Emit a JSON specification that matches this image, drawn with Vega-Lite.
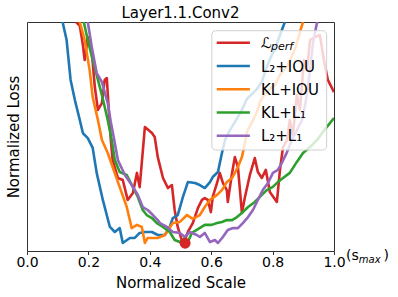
{
"$schema": "https://vega.github.io/schema/vega-lite/v6.json",
"width": 307, "height": 229,
"autosize": {"type": "none"},
"padding": {"left": 27, "top": 22, "right": 64, "bottom": 46},
"title": {"text": "Layer1.1.Conv2", "fontSize": 15, "fontWeight": "normal", "font": "DejaVu Sans", "color": "black", "anchor": "middle", "frame": "group", "baseline": "alphabetic", "offset": 4, "dy": 15},
"config": {"view": {"stroke": "#333", "strokeWidth": 1}, "font": "DejaVu Sans"},
"datasets": {
"curves": [
{"series":"Lperf","scale":0.160,"loss":1.0},{"series":"Lperf","scale":0.172,"loss":0.983},{"series":"Lperf","scale":0.182,"loss":0.900},{"series":"Lperf","scale":0.188,"loss":0.834},{"series":"Lperf","scale":0.198,"loss":0.934},{"series":"Lperf","scale":0.211,"loss":0.869},{"series":"Lperf","scale":0.221,"loss":0.716},{"series":"Lperf","scale":0.231,"loss":0.616},{"series":"Lperf","scale":0.244,"loss":0.646},{"series":"Lperf","scale":0.253,"loss":0.747},{"series":"Lperf","scale":0.260,"loss":0.755},{"series":"Lperf","scale":0.267,"loss":0.603},{"series":"Lperf","scale":0.273,"loss":0.485},{"series":"Lperf","scale":0.279,"loss":0.397},{"series":"Lperf","scale":0.296,"loss":0.319},{"series":"Lperf","scale":0.312,"loss":0.310},{"series":"Lperf","scale":0.328,"loss":0.223},{"series":"Lperf","scale":0.345,"loss":0.253},{"series":"Lperf","scale":0.358,"loss":0.341},{"series":"Lperf","scale":0.367,"loss":0.279},{"series":"Lperf","scale":0.384,"loss":0.541},{"series":"Lperf","scale":0.407,"loss":0.515},{"series":"Lperf","scale":0.416,"loss":0.498},{"series":"Lperf","scale":0.426,"loss":0.410},{"series":"Lperf","scale":0.443,"loss":0.319},{"series":"Lperf","scale":0.459,"loss":0.275},{"series":"Lperf","scale":0.472,"loss":0.288},{"series":"Lperf","scale":0.481,"loss":0.179},{"series":"Lperf","scale":0.491,"loss":0.105},{"series":"Lperf","scale":0.504,"loss":0.048},{"series":"Lperf","scale":0.514,"loss":0.048},{"series":"Lperf","scale":0.524,"loss":0.083},{"series":"Lperf","scale":0.540,"loss":0.122},{"series":"Lperf","scale":0.557,"loss":0.188},{"series":"Lperf","scale":0.570,"loss":0.223},{"series":"Lperf","scale":0.579,"loss":0.231},{"series":"Lperf","scale":0.589,"loss":0.223},{"series":"Lperf","scale":0.599,"loss":0.170},{"series":"Lperf","scale":0.605,"loss":0.236},{"series":"Lperf","scale":0.619,"loss":0.297},{"series":"Lperf","scale":0.628,"loss":0.341},{"series":"Lperf","scale":0.638,"loss":0.297},{"series":"Lperf","scale":0.651,"loss":0.266},{"series":"Lperf","scale":0.654,"loss":0.214},{"series":"Lperf","scale":0.668,"loss":0.341},{"series":"Lperf","scale":0.677,"loss":0.410},{"series":"Lperf","scale":0.687,"loss":0.367},{"series":"Lperf","scale":0.700,"loss":0.166},{"series":"Lperf","scale":0.710,"loss":0.236},{"series":"Lperf","scale":0.726,"loss":0.332},{"series":"Lperf","scale":0.742,"loss":0.406},{"series":"Lperf","scale":0.752,"loss":0.345},{"series":"Lperf","scale":0.765,"loss":0.319},{"series":"Lperf","scale":0.778,"loss":0.354},{"series":"Lperf","scale":0.791,"loss":0.258},{"series":"Lperf","scale":0.814,"loss":0.214},{"series":"Lperf","scale":0.824,"loss":0.354},{"series":"Lperf","scale":0.834,"loss":0.454},{"series":"Lperf","scale":0.847,"loss":0.485},{"series":"Lperf","scale":0.856,"loss":0.572},{"series":"Lperf","scale":0.866,"loss":0.507},{"series":"Lperf","scale":0.879,"loss":0.681},{"series":"Lperf","scale":0.889,"loss":0.616},{"series":"Lperf","scale":0.902,"loss":0.834},{"series":"Lperf","scale":0.912,"loss":0.790},{"series":"Lperf","scale":0.922,"loss":0.921},{"series":"Lperf","scale":0.938,"loss":0.934},{"series":"Lperf","scale":0.954,"loss":0.943},{"series":"Lperf","scale":0.967,"loss":0.834},{"series":"Lperf","scale":0.980,"loss":0.747},{"series":"Lperf","scale":1.0,"loss":0.694},
{"series":"L2+IOU","scale":0.116,"loss":1.0},{"series":"L2+IOU","scale":0.129,"loss":0.921},{"series":"L2+IOU","scale":0.142,"loss":0.747},{"series":"L2+IOU","scale":0.156,"loss":0.659},{"series":"L2+IOU","scale":0.172,"loss":0.572},{"series":"L2+IOU","scale":0.182,"loss":0.515},{"series":"L2+IOU","scale":0.198,"loss":0.493},{"series":"L2+IOU","scale":0.214,"loss":0.450},{"series":"L2+IOU","scale":0.227,"loss":0.341},{"series":"L2+IOU","scale":0.247,"loss":0.223},{"series":"L2+IOU","scale":0.270,"loss":0.105},{"series":"L2+IOU","scale":0.286,"loss":0.083},{"series":"L2+IOU","scale":0.302,"loss":0.100},{"series":"L2+IOU","scale":0.312,"loss":0.035},{"series":"L2+IOU","scale":0.335,"loss":0.057},{"series":"L2+IOU","scale":0.351,"loss":0.057},{"series":"L2+IOU","scale":0.367,"loss":0.079},{"series":"L2+IOU","scale":0.384,"loss":0.083},{"series":"L2+IOU","scale":0.407,"loss":0.083},{"series":"L2+IOU","scale":0.426,"loss":0.070},{"series":"L2+IOU","scale":0.449,"loss":0.070},{"series":"L2+IOU","scale":0.465,"loss":0.105},{"series":"L2+IOU","scale":0.475,"loss":0.144},{"series":"L2+IOU","scale":0.491,"loss":0.157},{"series":"L2+IOU","scale":0.508,"loss":0.236},{"series":"L2+IOU","scale":0.524,"loss":0.301},{"series":"L2+IOU","scale":0.547,"loss":0.297},{"series":"L2+IOU","scale":0.563,"loss":0.288},{"series":"L2+IOU","scale":0.579,"loss":0.275},{"series":"L2+IOU","scale":0.596,"loss":0.301},{"series":"L2+IOU","scale":0.605,"loss":0.323},{"series":"L2+IOU","scale":0.622,"loss":0.345},{"series":"L2+IOU","scale":0.635,"loss":0.428},{"series":"L2+IOU","scale":0.645,"loss":0.485},{"series":"L2+IOU","scale":0.661,"loss":0.528},{"series":"L2+IOU","scale":0.677,"loss":0.563},{"series":"L2+IOU","scale":0.700,"loss":0.616},{"series":"L2+IOU","scale":0.716,"loss":0.664},{"series":"L2+IOU","scale":0.733,"loss":0.686},{"series":"L2+IOU","scale":0.749,"loss":0.707},{"series":"L2+IOU","scale":0.765,"loss":0.738},{"series":"L2+IOU","scale":0.775,"loss":0.782},{"series":"L2+IOU","scale":0.791,"loss":0.838},{"series":"L2+IOU","scale":0.808,"loss":0.882},{"series":"L2+IOU","scale":0.824,"loss":0.943},{"series":"L2+IOU","scale":0.840,"loss":1.0},
{"series":"KL+IOU","scale":0.172,"loss":1.0},{"series":"KL+IOU","scale":0.188,"loss":0.921},{"series":"KL+IOU","scale":0.204,"loss":0.790},{"series":"KL+IOU","scale":0.214,"loss":0.672},{"series":"KL+IOU","scale":0.231,"loss":0.572},{"series":"KL+IOU","scale":0.244,"loss":0.485},{"series":"KL+IOU","scale":0.263,"loss":0.428},{"series":"KL+IOU","scale":0.279,"loss":0.367},{"series":"KL+IOU","scale":0.302,"loss":0.279},{"series":"KL+IOU","scale":0.325,"loss":0.192},{"series":"KL+IOU","scale":0.341,"loss":0.100},{"series":"KL+IOU","scale":0.358,"loss":0.114},{"series":"KL+IOU","scale":0.374,"loss":0.105},{"series":"KL+IOU","scale":0.384,"loss":0.035},{"series":"KL+IOU","scale":0.393,"loss":0.057},{"series":"KL+IOU","scale":0.426,"loss":0.057},{"series":"KL+IOU","scale":0.449,"loss":0.070},{"series":"KL+IOU","scale":0.475,"loss":0.122},{"series":"KL+IOU","scale":0.498,"loss":0.127},{"series":"KL+IOU","scale":0.521,"loss":0.157},{"series":"KL+IOU","scale":0.540,"loss":0.140},{"series":"KL+IOU","scale":0.563,"loss":0.157},{"series":"KL+IOU","scale":0.579,"loss":0.192},{"series":"KL+IOU","scale":0.596,"loss":0.223},{"series":"KL+IOU","scale":0.619,"loss":0.245},{"series":"KL+IOU","scale":0.635,"loss":0.266},{"series":"KL+IOU","scale":0.651,"loss":0.301},{"series":"KL+IOU","scale":0.668,"loss":0.319},{"series":"KL+IOU","scale":0.677,"loss":0.341},{"series":"KL+IOU","scale":0.687,"loss":0.367},{"series":"KL+IOU","scale":0.700,"loss":0.410},{"series":"KL+IOU","scale":0.710,"loss":0.472},{"series":"KL+IOU","scale":0.716,"loss":0.520},{"series":"KL+IOU","scale":0.733,"loss":0.563},{"series":"KL+IOU","scale":0.749,"loss":0.607},{"series":"KL+IOU","scale":0.759,"loss":0.651},{"series":"KL+IOU","scale":0.775,"loss":0.686},{"series":"KL+IOU","scale":0.791,"loss":0.707},{"series":"KL+IOU","scale":0.808,"loss":0.725},{"series":"KL+IOU","scale":0.824,"loss":0.769},{"series":"KL+IOU","scale":0.850,"loss":0.812},{"series":"KL+IOU","scale":0.873,"loss":0.882},{"series":"KL+IOU","scale":0.889,"loss":0.956},{"series":"KL+IOU","scale":0.899,"loss":1.0},
{"series":"KL+L1","scale":0.185,"loss":1.0},{"series":"KL+L1","scale":0.198,"loss":0.921},{"series":"KL+L1","scale":0.214,"loss":0.834},{"series":"KL+L1","scale":0.227,"loss":0.769},{"series":"KL+L1","scale":0.244,"loss":0.681},{"series":"KL+L1","scale":0.263,"loss":0.572},{"series":"KL+L1","scale":0.276,"loss":0.485},{"series":"KL+L1","scale":0.286,"loss":0.397},{"series":"KL+L1","scale":0.302,"loss":0.345},{"series":"KL+L1","scale":0.325,"loss":0.332},{"series":"KL+L1","scale":0.345,"loss":0.279},{"series":"KL+L1","scale":0.361,"loss":0.236},{"series":"KL+L1","scale":0.377,"loss":0.179},{"series":"KL+L1","scale":0.390,"loss":0.157},{"series":"KL+L1","scale":0.407,"loss":0.144},{"series":"KL+L1","scale":0.423,"loss":0.122},{"series":"KL+L1","scale":0.443,"loss":0.105},{"series":"KL+L1","scale":0.465,"loss":0.083},{"series":"KL+L1","scale":0.481,"loss":0.048},{"series":"KL+L1","scale":0.498,"loss":0.039},{"series":"KL+L1","scale":0.514,"loss":0.057},{"series":"KL+L1","scale":0.524,"loss":0.039},{"series":"KL+L1","scale":0.537,"loss":0.079},{"series":"KL+L1","scale":0.553,"loss":0.092},{"series":"KL+L1","scale":0.579,"loss":0.114},{"series":"KL+L1","scale":0.602,"loss":0.114},{"series":"KL+L1","scale":0.619,"loss":0.122},{"series":"KL+L1","scale":0.635,"loss":0.127},{"series":"KL+L1","scale":0.651,"loss":0.135},{"series":"KL+L1","scale":0.668,"loss":0.135},{"series":"KL+L1","scale":0.684,"loss":0.148},{"series":"KL+L1","scale":0.700,"loss":0.166},{"series":"KL+L1","scale":0.720,"loss":0.192},{"series":"KL+L1","scale":0.742,"loss":0.214},{"series":"KL+L1","scale":0.765,"loss":0.245},{"series":"KL+L1","scale":0.781,"loss":0.266},{"series":"KL+L1","scale":0.801,"loss":0.280},{"series":"KL+L1","scale":0.817,"loss":0.301},{"series":"KL+L1","scale":0.834,"loss":0.319},{"series":"KL+L1","scale":0.856,"loss":0.341},{"series":"KL+L1","scale":0.879,"loss":0.389},{"series":"KL+L1","scale":0.899,"loss":0.428},{"series":"KL+L1","scale":0.922,"loss":0.454},{"series":"KL+L1","scale":0.945,"loss":0.485},{"series":"KL+L1","scale":0.964,"loss":0.520},{"series":"KL+L1","scale":0.987,"loss":0.559},{"series":"KL+L1","scale":1.0,"loss":0.581},
{"series":"L2+L1","scale":0.198,"loss":1.0},{"series":"L2+L1","scale":0.211,"loss":0.891},{"series":"L2+L1","scale":0.227,"loss":0.777},{"series":"L2+L1","scale":0.244,"loss":0.738},{"series":"L2+L1","scale":0.263,"loss":0.646},{"series":"L2+L1","scale":0.273,"loss":0.563},{"series":"L2+L1","scale":0.283,"loss":0.493},{"series":"L2+L1","scale":0.296,"loss":0.397},{"series":"L2+L1","scale":0.319,"loss":0.332},{"series":"L2+L1","scale":0.341,"loss":0.288},{"series":"L2+L1","scale":0.361,"loss":0.245},{"series":"L2+L1","scale":0.377,"loss":0.192},{"series":"L2+L1","scale":0.393,"loss":0.179},{"series":"L2+L1","scale":0.410,"loss":0.157},{"series":"L2+L1","scale":0.426,"loss":0.135},{"series":"L2+L1","scale":0.433,"loss":0.122},{"series":"L2+L1","scale":0.456,"loss":0.105},{"series":"L2+L1","scale":0.475,"loss":0.083},{"series":"L2+L1","scale":0.498,"loss":0.079},{"series":"L2+L1","scale":0.514,"loss":0.061},{"series":"L2+L1","scale":0.530,"loss":0.083},{"series":"L2+L1","scale":0.553,"loss":0.070},{"series":"L2+L1","scale":0.563,"loss":0.061},{"series":"L2+L1","scale":0.579,"loss":0.079},{"series":"L2+L1","scale":0.596,"loss":0.039},{"series":"L2+L1","scale":0.612,"loss":0.048},{"series":"L2+L1","scale":0.622,"loss":0.035},{"series":"L2+L1","scale":0.638,"loss":0.061},{"series":"L2+L1","scale":0.654,"loss":0.092},{"series":"L2+L1","scale":0.671,"loss":0.100},{"series":"L2+L1","scale":0.687,"loss":0.100},{"series":"L2+L1","scale":0.703,"loss":0.122},{"series":"L2+L1","scale":0.720,"loss":0.148},{"series":"L2+L1","scale":0.736,"loss":0.179},{"series":"L2+L1","scale":0.752,"loss":0.223},{"series":"L2+L1","scale":0.768,"loss":0.266},{"series":"L2+L1","scale":0.785,"loss":0.297},{"series":"L2+L1","scale":0.801,"loss":0.341},{"series":"L2+L1","scale":0.817,"loss":0.354},{"series":"L2+L1","scale":0.830,"loss":0.384},{"series":"L2+L1","scale":0.847,"loss":0.432},{"series":"L2+L1","scale":0.863,"loss":0.485},{"series":"L2+L1","scale":0.879,"loss":0.528},{"series":"L2+L1","scale":0.896,"loss":0.572},{"series":"L2+L1","scale":0.909,"loss":0.659},{"series":"L2+L1","scale":0.922,"loss":0.790},{"series":"L2+L1","scale":0.932,"loss":0.913},{"series":"L2+L1","scale":0.945,"loss":1.0}
],
"optimum": [{"scale": 0.515, "loss": 0.034}],
"legend": [
{"series":"Lperf","label":"ℒ","sub":"perf"},
{"series":"L2+IOU","label":"L₂+IOU","sub":""},
{"series":"KL+IOU","label":"KL+IOU","sub":""},
{"series":"KL+L1","label":"KL+L₁","sub":""},
{"series":"L2+L1","label":"L₂+L₁","sub":""}
]
},
"layer": [
{"layer": [
 {"data": {"name": "curves"},
  "mark": {"type": "line", "strokeWidth": 2.6, "clip": true, "strokeJoin": "round"},
  "encoding": {
   "x": {"field": "scale", "type": "quantitative", "scale": {"domain": [0, 1], "nice": false},
     "axis": {"title": "Normalized Scale", "values": [0, 0.2, 0.4, 0.6, 0.8, 1.0], "format": ".1f", "labelFontSize": 14, "labelColor": "black", "labelFont": "DejaVu Sans", "labelPadding": 1, "labelFlush": false, "tickSize": 3.5, "tickColor": "#333", "tickWidth": 1, "domain": false, "grid": false, "titleFontSize": 15, "titleFontWeight": "normal", "titleColor": "black", "titleFont": "DejaVu Sans", "titlePadding": 6}},
   "y": {"field": "loss", "type": "quantitative", "scale": {"domain": [0, 1], "nice": false},
     "axis": {"title": "Normalized Loss", "ticks": false, "labels": false, "domain": false, "grid": false, "titleFontSize": 15, "titleFontWeight": "normal", "titleColor": "black", "titleFont": "DejaVu Sans", "titlePadding": 6}},
   "color": {"field": "series", "type": "nominal", "scale": {"domain": ["Lperf", "L2+IOU", "KL+IOU", "KL+L1", "L2+L1"], "range": ["#d62728", "#1f77b4", "#ff7f0e", "#2ca02c", "#9467bd"]}, "legend": null}
  }},
 {"data": {"name": "optimum"},
  "mark": {"type": "circle", "size": 120, "opacity": 1, "color": "#d62728"},
  "encoding": {"x": {"field": "scale", "type": "quantitative", "scale": {"domain": [0, 1]}}, "y": {"field": "loss", "type": "quantitative", "scale": {"domain": [0, 1]}}}},
 {"data": {"values": [{}]},
  "mark": {"type": "rect", "fill": "white", "fillOpacity": 0.8, "stroke": "#d0d0d0", "strokeWidth": 1, "cornerRadius": 4},
  "encoding": {"x": {"datum": 0.602, "scale": {"domain": [0, 1]}}, "x2": {"datum": 0.976}, "y": {"datum": 0.962, "scale": {"domain": [0, 1]}}, "y2": {"datum": 0.441}}},
 {"data": {"values": [{}]},
  "mark": {"type": "text", "text": "(s", "fontSize": 14, "font": "DejaVu Sans", "align": "left", "baseline": "alphabetic", "color": "black"},
  "encoding": {"x": {"datum": 1.039, "scale": {"domain": [0, 1]}}, "y": {"datum": -0.039, "scale": {"domain": [0, 1]}}}},
 {"data": {"values": [{}]},
  "mark": {"type": "text", "text": "max", "fontSize": 10, "fontStyle": "italic", "font": "DejaVu Sans", "align": "left", "baseline": "alphabetic", "color": "black"},
  "encoding": {"x": {"datum": 1.081, "scale": {"domain": [0, 1]}}, "y": {"datum": -0.052, "scale": {"domain": [0, 1]}}}},
 {"data": {"values": [{}]},
  "mark": {"type": "text", "text": ")", "fontSize": 14, "font": "DejaVu Sans", "align": "left", "baseline": "alphabetic", "color": "black"},
  "encoding": {"x": {"datum": 1.161, "scale": {"domain": [0, 1]}}, "y": {"datum": -0.039, "scale": {"domain": [0, 1]}}}}
]},
{"data": {"name": "legend"},
 "encoding": {"y": {"field": "series", "type": "nominal", "sort": null, "scale": {"type": "point", "domain": ["Lperf", "L2+IOU", "KL+IOU", "KL+L1", "L2+L1"], "range": [20.8, 113.7], "padding": 0}, "axis": null}},
 "layer": [
  {"mark": {"type": "rule", "strokeWidth": 2.6},
   "encoding": {"x": {"datum": 0.618, "scale": {"domain": [0, 1]}}, "x2": {"datum": 0.726}, "color": {"field": "series", "type": "nominal", "legend": null}}},
  {"mark": {"type": "text", "fontSize": 15, "font": "DejaVu Sans", "align": "left", "baseline": "alphabetic", "dy": 5.5, "color": "black"},
   "encoding": {"x": {"datum": 0.762, "scale": {"domain": [0, 1]}}, "text": {"field": "label"}}},
  {"mark": {"type": "text", "fontSize": 11, "fontStyle": "italic", "font": "DejaVu Sans", "align": "left", "baseline": "alphabetic", "dy": 7.2, "color": "black"},
   "encoding": {"x": {"datum": 0.795, "scale": {"domain": [0, 1]}}, "text": {"field": "sub"}}}
 ]}
],
"resolve": {"scale": {"y": "independent"}, "axis": {"y": "independent"}}
}
